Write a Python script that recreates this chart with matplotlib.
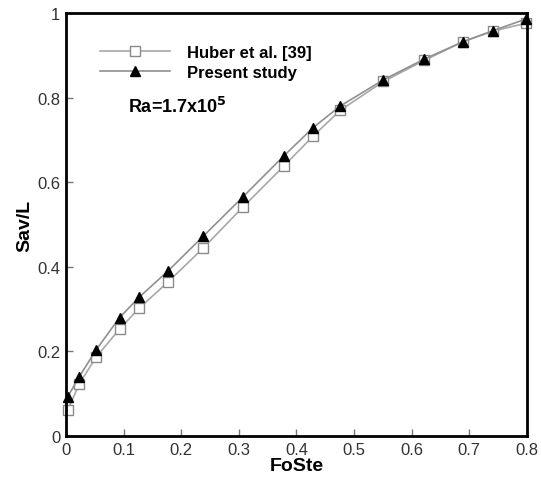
import matplotlib
matplotlib.use('Agg')
import matplotlib.pyplot as plt
from matplotlib.ticker import FormatStrFormatter

plt.rcParams['font.family'] = ['Liberation Sans', 'DejaVu Sans']

# FoSte values (same for both series)
fo_ste = [0.003, 0.023, 0.052, 0.093, 0.127, 0.177, 0.238, 0.307,
          0.378, 0.429, 0.476, 0.551, 0.622, 0.689, 0.741, 0.799]
# Sav/L, Huber et al. [39]
huber = [0.061, 0.123, 0.186, 0.253, 0.302, 0.364, 0.444, 0.541,
         0.638, 0.709, 0.770, 0.838, 0.888, 0.932, 0.957, 0.976]
# Sav/L, present study
present = [0.093, 0.140, 0.203, 0.280, 0.328, 0.390, 0.472, 0.565,
           0.662, 0.729, 0.780, 0.842, 0.891, 0.932, 0.958, 0.986]

xticks = [0, 0.1, 0.2, 0.3, 0.4, 0.5, 0.6, 0.7, 0.8]
yticks = [0, 0.2, 0.4, 0.6, 0.8, 1]

fig = plt.figure(figsize=(5.41, 4.81), dpi=100)
ax = fig.add_axes([0.122, 0.0915, 0.852, 0.8795])

ax.plot(fo_ste, huber, color='#a8a8a8', lw=1.2, marker='s', ms=6.5,
        mfc='white', mec='#8a8a8a', mew=1.0, clip_on=False,
        label='Huber et al. [39]')
ax.plot(fo_ste, present, color='#909090', lw=1.2, marker='^', ms=7.5,
        mfc='black', mec='black', clip_on=False, label='Present study')

ax.set_xlim(0, 0.8)
ax.set_ylim(0, 1)
ax.set_xticks(xticks)
ax.set_yticks(yticks)
ax.xaxis.set_major_formatter(FormatStrFormatter('%g'))
ax.yaxis.set_major_formatter(FormatStrFormatter('%g'))
ax.tick_params(direction='in', length=5, width=1, color='#777777',
               labelsize=12, labelcolor='#333333', pad=4)
for s in ax.spines.values():
    s.set_linewidth(2)
    s.set_color('black')

ax.set_xlabel('FoSte', fontsize=14, fontweight='bold', labelpad=0)
ax.set_ylabel('Sav/L', fontsize=14, fontweight='bold', labelpad=3)

leg = ax.legend(loc='upper left', bbox_to_anchor=(0.06, 0.94), frameon=False,
                prop={'weight': 'bold', 'size': 12}, handlelength=4.2,
                handletextpad=1.0, labelspacing=0.3, borderaxespad=0)

ax.text(0.135, 0.78, r'Ra=1.7x10$^{\mathbf{5}}$', transform=ax.transAxes,
        fontsize=13, fontweight='bold', va='center')

fig.savefig('out.png', dpi=100)
